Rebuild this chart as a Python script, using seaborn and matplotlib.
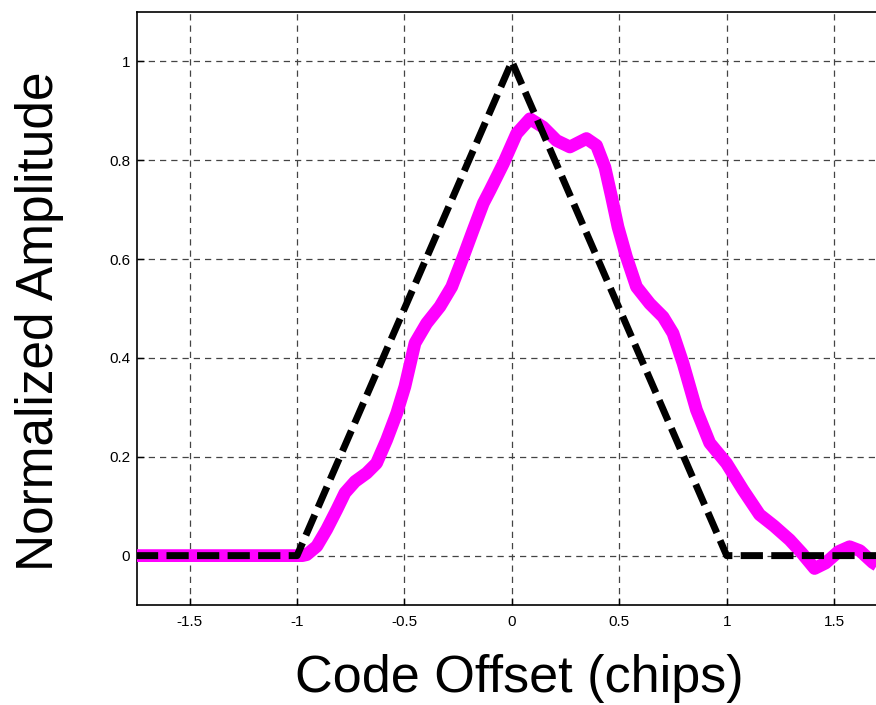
import matplotlib
matplotlib.use("Agg")
import matplotlib.pyplot as plt
import seaborn as sns
import pandas as pd

# Measured correlation (magenta) vs. ideal triangle (black dashed)
offset_meas = [-1.75, -1.0, -0.975, -0.955, -0.908, -0.862, -0.815, -0.777, -0.730,
               -0.676, -0.630, -0.583, -0.536, -0.498, -0.451, -0.397, -0.335, -0.28,
               -0.226, -0.18, -0.133, -0.102, -0.04, 0.022, 0.084, 0.146, 0.208, 0.27,
               0.347, 0.394, 0.433, 0.464, 0.494, 0.533, 0.58, 0.642, 0.704, 0.75,
               0.797, 0.859, 0.921, 0.999, 1.076, 1.153, 1.22, 1.293, 1.35, 1.409,
               1.46, 1.52, 1.572, 1.62, 1.68, 1.72]
amp_meas = [0.0, 0.0, 0.0, 0.002, 0.019, 0.053, 0.093, 0.127, 0.150,
            0.167, 0.187, 0.234, 0.288, 0.342, 0.43, 0.47, 0.504, 0.544,
            0.605, 0.659, 0.713, 0.739, 0.793, 0.854, 0.884, 0.867, 0.84, 0.827,
            0.844, 0.830, 0.786, 0.726, 0.665, 0.605, 0.544, 0.51, 0.483, 0.45,
            0.389, 0.295, 0.228, 0.187, 0.133, 0.083, 0.06, 0.032, 0.005, -0.026,
            -0.015, 0.008, 0.018, 0.01, -0.014, -0.025]

offset_ideal = [-1.75, -1.0, 0.0, 1.0, 1.75]
amp_ideal = [0.0, 0.0, 1.0, 0.0, 0.0]

x_ticks = [-1.5, -1.0, -0.5, 0.0, 0.5, 1.0, 1.5]
x_tick_labels = ["-1.5", "-1", "-0.5", "0", "0.5", "1", "1.5"]
y_ticks = [0.0, 0.2, 0.4, 0.6, 0.8, 1.0]
y_tick_labels = ["0", "0.2", "0.4", "0.6", "0.8", "1"]

sns.set_theme(style="white")
plt.rcParams["font.family"] = ["Liberation Sans", "DejaVu Sans"]

fig = plt.figure(figsize=(8.76, 7.05), dpi=100)
ax = fig.add_axes([0.1564, 0.1418, 0.8436, 0.8411])

meas = pd.DataFrame({"offset": offset_meas, "amp": amp_meas})
ideal = pd.DataFrame({"offset": offset_ideal, "amp": amp_ideal})

sns.lineplot(data=meas, x="offset", y="amp", ax=ax, color="#ff00ff",
             linewidth=9.2, sort=False, estimator=None,
             solid_joinstyle="round", solid_capstyle="butt", zorder=3)
sns.lineplot(data=ideal, x="offset", y="amp", ax=ax, color="black",
             linewidth=5.0, sort=False, estimator=None,
             dashes=False, zorder=4)
ideal_line = ax.lines[-1]
ideal_line.set_dashes([3.2, 1.2])
ideal_line.set_dash_capstyle("butt")

ax.set_xlim(-1.745, 1.695)
ax.set_ylim(-0.1, 1.1)
ax.set_xticks(x_ticks)
ax.set_xticklabels(x_tick_labels)
ax.set_yticks(y_ticks)
ax.set_yticklabels(y_tick_labels)

ax.grid(True, color="#444444", linestyle=(0, (5, 4)), linewidth=0.9, zorder=0)
ax.set_axisbelow(True)

for side in ["left", "bottom", "top"]:
    ax.spines[side].set_visible(True)
    ax.spines[side].set_color("black")
    ax.spines[side].set_linewidth(1.2)
ax.spines["right"].set_visible(False)

ax.tick_params(axis="both", direction="in", length=5, width=1, colors="black",
               labelsize=11, left=True, bottom=True)
ax.tick_params(axis="x", pad=7)
ax.tick_params(axis="y", pad=5)

ax.set_xlabel("Code Offset (chips)", fontsize=37.5, color="black", va="baseline")
ax.xaxis.set_label_coords(0.518, -0.1467)
ax.set_ylabel("Normalized Amplitude", fontsize=37, color="black", va="baseline")
ax.yaxis.set_label_coords(-0.1135, 0.478)

fig.savefig("out.png", dpi=100)
